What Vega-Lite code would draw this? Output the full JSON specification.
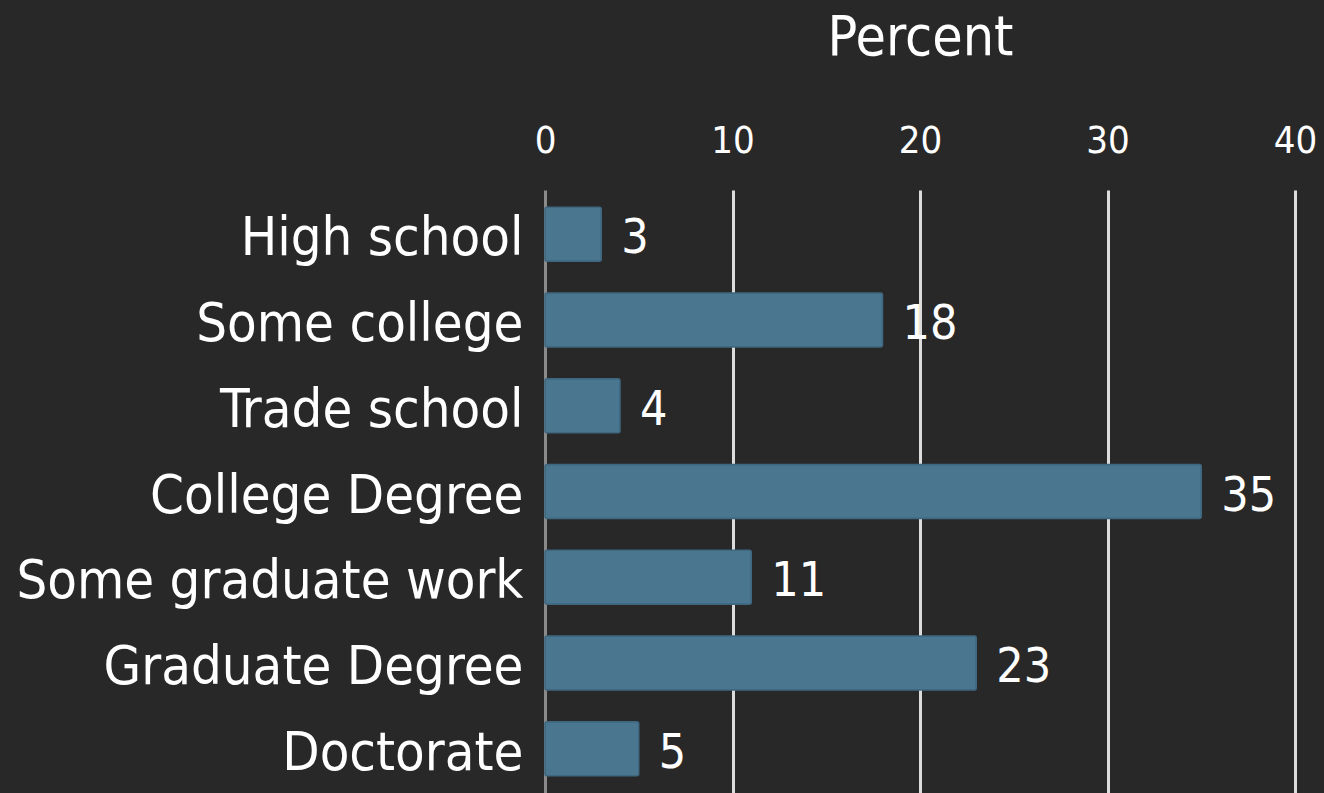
{
  "$schema": "https://vega.github.io/schema/vega-lite/v6.json",
  "autosize": "none",
  "width": 750,
  "height": 603,
  "padding": {"left": 545, "top": 190, "right": 29, "bottom": 0},
  "background": "#282828",
  "config": {"view": {"stroke": null}, "font": "DejaVu Sans Condensed"},
  "data": {"values": [
    {"level": "High school", "percent": 3},
    {"level": "Some college", "percent": 18},
    {"level": "Trade school", "percent": 4},
    {"level": "College Degree", "percent": 35},
    {"level": "Some graduate work", "percent": 11},
    {"level": "Graduate Degree", "percent": 23},
    {"level": "Doctorate", "percent": 5}
  ]},
  "encoding": {
    "y": {"field": "level", "type": "nominal", "sort": null,
      "scale": {"paddingInner": 0.37, "paddingOuter": 0.2},
      "axis": {"title": null, "domain": false, "ticks": false, "labelPadding": 22, "labelLimit": 0,
        "labelOffset": 5,
        "labelFontSize": 54, "labelColor": "#ffffff", "labelFont": "DejaVu Sans Condensed"}},
    "x": {"field": "percent", "type": "quantitative",
      "scale": {"domain": [0, 40], "nice": false},
      "axis": {"orient": "top", "title": "Percent", "values": [0, 10, 20, 30, 40],
        "domain": false, "ticks": false, "labelFontSize": 38, "labelColor": "#ffffff",
        "labelFont": "DejaVu Sans Condensed", "titleFont": "DejaVu Sans Condensed",
        "labelPadding": 30, "titleFontSize": 55, "titleFontWeight": "normal",
        "titleColor": "#ffffff", "titlePadding": 56, "labelFlush": false,
        "gridWidth": 3,
        "gridColor": {"condition": {"test": "datum.value === 0", "value": "#8a8a8a"}, "value": "#dcdcdc"}}}
  },
  "layer": [
    {"mark": {"type": "bar", "color": "#4a768f", "stroke": "#3f6880", "strokeWidth": 1.5, "cornerRadius": 2}},
    {"mark": {"type": "text", "align": "left", "baseline": "middle", "dx": 20, "dy": 5, "fontSize": 48, "color": "#ffffff", "font": "DejaVu Sans Condensed"},
     "encoding": {"text": {"field": "percent", "type": "quantitative"}}}
  ]
}
